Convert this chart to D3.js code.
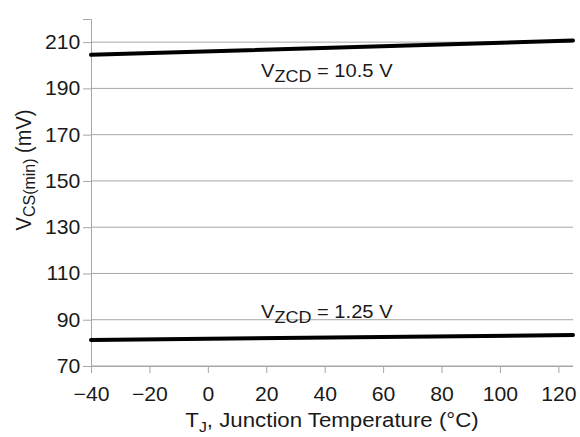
<!DOCTYPE html>
<html><head><meta charset="utf-8">
<script src="https://cdn.jsdelivr.net/npm/d3@7"></script>
<style>body{margin:0;background:#fff;} text{font-family:"Liberation Sans",Arial,sans-serif;fill:#1a1a1a;}</style>
</head><body>
<svg id="c" width="580" height="437"></svg>
<script>
const temps = [-40, 125];
const seriesHigh = [204.5, 210.7];
const seriesLow = [81.2, 83.4];
const xTicks = [-40, -20, 0, 20, 40, 60, 80, 100, 120];
const yTicks = [70, 90, 110, 130, 150, 170, 190, 210];

const svg = d3.select("#c");
const L = 91, R = 573, T = 19, B = 366;
const SX = 1.06;
const x = d3.scaleLinear().domain([-40, 125]).range([L, R]);
const y = d3.scaleLinear().domain([70, 220]).range([B, T]);
const grid = "#a6a6a6";

// gridlines
svg.append("g").selectAll("line").data(yTicks).join("line")
  .attr("x1", L).attr("x2", R).attr("y1", d => y(d)).attr("y2", d => y(d))
  .attr("stroke", grid).attr("stroke-width", 1);

// y axis
const ya = svg.append("g").attr("transform", `translate(${L},0)`)
  .call(d3.axisLeft(y).tickValues(yTicks).tickSize(8).tickPadding(2));
ya.select(".domain").attr("stroke", grid);
ya.selectAll(".tick line").attr("stroke", grid);
ya.selectAll(".tick text").style("font-size", "20px").attr("fill", "#1a1a1a")
  .attr("transform", `scale(${SX},1)`);

// x axis
const xa = svg.append("g").attr("transform", `translate(0,${B})`)
  .call(d3.axisBottom(x).tickValues(xTicks).tickSize(7).tickPadding(14)
    .tickFormat(d => d < 0 ? "\u2212" + Math.abs(d) : d));
xa.select(".domain").attr("stroke", grid).attr("d", `M${L},0.5H${R}`);
xa.selectAll(".tick line").attr("stroke", grid);
xa.selectAll(".tick text").style("font-size", "20px").attr("fill", "#1a1a1a")
  .attr("transform", `scale(${SX},1)`);

// lines
const line = d3.line().x((d, i) => x(temps[i])).y(d => y(d));
[seriesHigh, seriesLow].forEach(s => {
  svg.append("path").attr("d", line(s)).attr("fill", "none")
    .attr("stroke", "#000").attr("stroke-width", 4).attr("stroke-linecap", "round");
});

// annotations
function vlabel(xp, yp, sub, rest) {
  const t = svg.append("text").attr("transform", `translate(${xp},${yp}) scale(${SX},1)`)
    .style("font-size", "19px");
  t.append("tspan").text("V");
  t.append("tspan").attr("dy", 5).style("font-size", "17px").text(sub);
  t.append("tspan").attr("dy", -5).text(rest);
  return t;
}
vlabel(261, 77, "ZCD", " = 10.5 V");
vlabel(261, 318, "ZCD", " = 1.25 V");

// x title
const xt = svg.append("text").attr("transform", `translate(332,427) scale(${SX},1)`)
  .attr("text-anchor", "middle").style("font-size", "21px");
xt.append("tspan").text("T");
xt.append("tspan").attr("dy", 5).style("font-size", "15px").text("J");
xt.append("tspan").attr("dy", -5).text(", Junction Temperature (\u00B0C)");

// y title
const yt = svg.append("text").attr("transform", `translate(31,170) scale(${SX},1) rotate(-90)`)
  .attr("text-anchor", "middle").style("font-size", "20px");
yt.append("tspan").text("V");
yt.append("tspan").attr("dy", 4).style("font-size", "16px").text("CS(min)");
yt.append("tspan").attr("dy", -4).text(" (mV)");
</script>
</body></html>
